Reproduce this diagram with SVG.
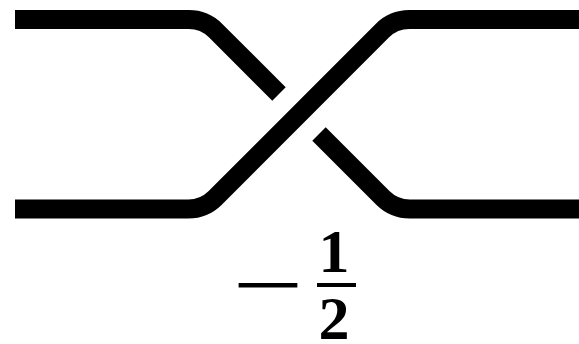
<svg xmlns="http://www.w3.org/2000/svg" width="579" height="344" viewBox="0 0 579 344">
<style>
.strand{fill:none;stroke:#000;stroke-width:19;stroke-linecap:butt;stroke-linejoin:round}
.num{font-family:"Liberation Serif","Times New Roman",serif;font-weight:bold;font-size:62px;fill:#000}
</style>
<rect width="579" height="344" fill="#fff"/>
<g id="crossing">
<path id="under-left" class="strand" d="M15,19.5 H188.8 A38,38 0 0 1 215.6,30.6 L279,94"/>
<path id="under-right" class="strand" d="M319,134 L383,198 A38,38 0 0 0 409.8,209 H580"/>
<path id="over" class="strand" d="M15,209 H188.3 A38,38 0 0 0 215.1,198 L382.4,30.6 A38,38 0 0 1 409.2,19.5 H580"/>
</g>
<g id="label">
<text class="num" x="232" y="306" textLength="72" lengthAdjust="spacingAndGlyphs">−</text>
<text class="num" x="334" y="272" text-anchor="middle">1</text>
<rect x="317" y="283" width="39" height="4" fill="#000"/>
<text class="num" x="334" y="339" text-anchor="middle">2</text>
</g>
</svg>
